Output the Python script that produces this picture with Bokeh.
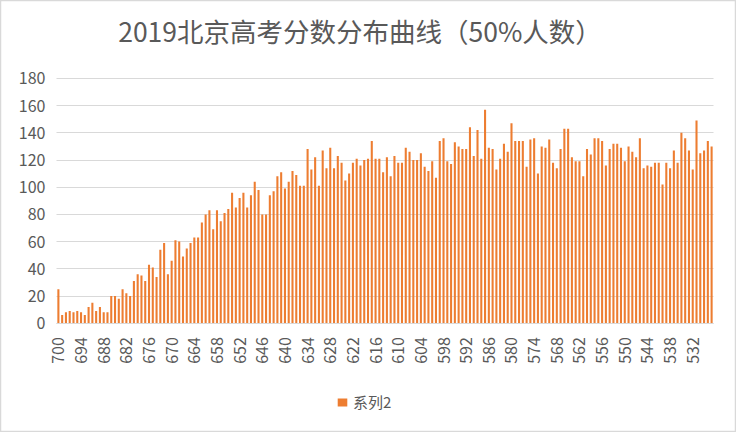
import math
from bokeh.plotting import figure
from bokeh.models import Range1d, FixedTicker, Legend, LegendItem, ColumnDataSource, Label
from bokeh.embed import file_html
from bokeh.resources import INLINE

# Scores (categories), from 700 down to 527
scores = list(range(700, 526, -1))

# Counts per score (series "系列2")
counts_700_658 = [25, 6, 8, 9, 8, 9, 8, 6, 12, 15,
                  9, 12, 8, 8, 20, 20, 18, 25, 22, 20,
                  31, 36, 35, 31, 43, 41, 34, 54, 59, 36,
                  46, 61, 60, 49, 55, 59, 63, 63, 74, 80,
                  83, 69, 83]
counts_657_615 = [75, 81, 84, 96, 85, 92, 96, 85, 94, 104,
                  98, 80, 80, 94, 97, 108, 111, 99, 104, 112,
                  109, 101, 101, 128, 113, 122, 101, 127, 114, 129,
                  114, 123, 118, 105, 110, 118, 121, 116, 120, 121,
                  134, 121, 121]
counts_614_573 = [111, 122, 108, 123, 118, 118, 129, 126, 120, 120,
                  125, 115, 112, 119, 107, 134, 136, 119, 117, 133,
                  130, 128, 128, 144, 123, 142, 121, 157, 129, 128,
                  113, 121, 132, 126, 147, 134, 134, 134, 115, 135,
                  136, 110]
counts_572_527 = [130, 129, 135, 118, 114, 128, 143, 143, 122, 119,
                  119, 108, 128, 124, 136, 136, 134, 116, 128, 132,
                  132, 129, 119, 130, 126, 122, 136, 114, 116, 115,
                  118, 118, 102, 118, 114, 127, 118, 140, 136, 127,
                  113, 149, 125, 127, 134, 130]
counts = counts_700_658 + counts_657_615 + counts_614_573 + counts_572_527

x_tick_labels = [700, 694, 688, 682, 676, 670, 664, 658, 652, 646, 640, 634, 628,
                 622, 616, 610, 604, 598, 592, 586, 580, 574, 568, 562, 556, 550,
                 544, 538, 532]
y_ticks = [0, 20, 40, 60, 80, 100, 120, 140, 160, 180]

title_text = "2019北京高考分数分布曲线（50%人数）"
series_name = "系列2"

FONT = "Noto Sans CJK SC"
GRAY = "#595959"
ORANGE = "#ED7D31"

W, H = 736, 432
PLOT_LEFT, PLOT_RIGHT = 56, 713          # pixel columns of the plot area
PLOT_TOP, ZERO_Y = 77.9, 322.7           # pixel rows of 180 and 0

x_lo_edge = scores[0] + 0.5               # left edge of the category axis
x_hi_edge = scores[-1] - 0.5              # right edge of the category axis
px_per_score = (PLOT_RIGHT - PLOT_LEFT) / (x_lo_edge - x_hi_edge)
x_start = x_lo_edge + PLOT_LEFT / px_per_score
x_end = x_hi_edge - (W - PLOT_RIGHT) / px_per_score

px_per_unit = (ZERO_Y - PLOT_TOP) / y_ticks[-1]
y_lo = -(H - ZERO_Y) / px_per_unit
y_hi = ZERO_Y / px_per_unit

src = ColumnDataSource(dict(score=scores, count=counts))

p = figure(width=W, height=H, output_backend="svg", toolbar_location=None,
           x_range=Range1d(x_start, x_end),
           y_range=Range1d(y_lo, y_hi),
           min_border_left=0, min_border_right=0,
           min_border_top=0, min_border_bottom=0)

r = p.vbar(x="score", top="count", width=0.55, source=src,
           fill_color=ORANGE, line_color=None)

p.outline_line_color = "#d9d9d9"
p.outline_line_width = 1.5
p.background_fill_color = "white"
p.border_fill_color = "white"

p.xgrid.grid_line_color = None
p.ygrid.ticker = FixedTicker(ticks=y_ticks)
p.ygrid.grid_line_color = "#d9d9d9"
p.ygrid.grid_line_width = 1
try:
    p.ygrid.cross_bounds = (x_hi_edge, x_lo_edge)
except AttributeError:
    p.ygrid.grid_line_color = None
    p.segment(x0=[x_lo_edge] * len(y_ticks), x1=[x_hi_edge] * len(y_ticks),
              y0=y_ticks, y1=y_ticks, line_color="#d9d9d9", line_width=1,
              level="underlay")

p.xaxis.fixed_location = 0
p.xaxis.bounds = (x_hi_edge, x_lo_edge)
p.xaxis.ticker = FixedTicker(ticks=x_tick_labels)
p.xaxis.major_label_orientation = math.pi / 2
p.xaxis.major_label_text_font = FONT
p.xaxis.major_label_text_font_size = "16px"
p.xaxis.major_label_text_color = GRAY
p.xaxis.major_tick_line_color = None
p.xaxis.minor_tick_line_color = None
p.xaxis.axis_line_color = "#d9d9d9"
p.xaxis.major_label_standoff = 8

p.yaxis.fixed_location = x_lo_edge
p.yaxis.bounds = (0, y_ticks[-1])
p.yaxis.ticker = FixedTicker(ticks=y_ticks)
p.yaxis.major_label_text_font = FONT
p.yaxis.major_label_text_font_size = "16px"
p.yaxis.major_label_text_color = GRAY
p.yaxis.major_tick_line_color = None
p.yaxis.minor_tick_line_color = None
p.yaxis.axis_line_color = None
p.yaxis.major_label_standoff = 5

title = Label(x=359.5, y=H - 30, x_units="screen", y_units="screen",
              text=title_text, text_align="center", text_baseline="middle",
              text_font=FONT, text_font_size="26.5px", text_color=GRAY)
p.add_layout(title)

legend = Legend(items=[LegendItem(label=series_name, renderers=[r])],
                location=(336, 20), orientation="horizontal",
                glyph_width=12, glyph_height=10, label_standoff=5,
                padding=0, margin=0, border_line_color=None,
                background_fill_alpha=0,
                label_text_font=FONT, label_text_font_size="15px",
                label_text_color=GRAY)
p.add_layout(legend)

open("out.html", "w").write(file_html(p, INLINE))
